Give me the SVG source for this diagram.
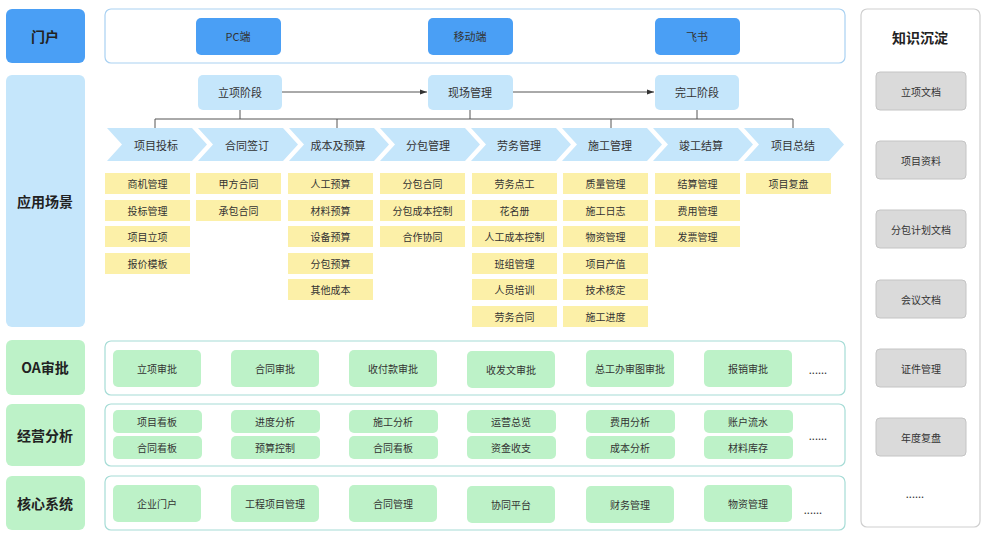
<svg xmlns="http://www.w3.org/2000/svg" width="988" height="539" viewBox="0 0 988 539">
<style>
text{font-family:"Noto Sans CJK SC","Liberation Sans",sans-serif;text-anchor:middle;dominant-baseline:central;fill:#333}
.s{font-size:10px}
.m{font-size:11px}
.h{font-size:14px;font-weight:bold;fill:#222}
.lb{fill:#c5e6fb}
.db{fill:#4a9ff5}
.y{fill:#fcf0a8}
.g{fill:#bdf2c8}
.pb{fill:#fff;stroke:#a9d1f2;stroke-width:1.2}
.pg{fill:#fff;stroke:#a6dcd6;stroke-width:1.2}
.gr{fill:#dadada;stroke:#c4c4c4}
.ln{stroke:#555;stroke-width:1;fill:none}
</style>
<defs><marker id="a" markerWidth="8" markerHeight="8" refX="7" refY="4" orient="auto"><path d="M0,1.5L7,4L0,6.5z" fill="#333"/></marker></defs>
<g id="labels">
<rect x="6" y="9" width="79" height="54" rx="6" class="db"/><text x="45" y="36" class="h">门户</text>
<rect x="6" y="75" width="79" height="252" rx="6" class="lb"/><text x="45" y="201" class="h">应用场景</text>
<rect x="6" y="340" width="79" height="55" rx="6" class="g"/><text x="45" y="367" class="h">OA审批</text>
<rect x="6" y="404" width="79" height="62" rx="6" class="g"/><text x="45" y="435" class="h">经营分析</text>
<rect x="6" y="476" width="79" height="54" rx="6" class="g"/><text x="45" y="503" class="h">核心系统</text>
</g>
<g id="portal">
<rect x="105" y="9" width="740" height="54" rx="6" class="pb"/>
<rect x="196" y="18" width="85" height="37" rx="5" class="db"/><text x="238" y="36" class="m">PC端</text>
<rect x="428" y="18" width="85" height="37" rx="5" class="db"/><text x="470" y="36" class="m">移动端</text>
<rect x="655" y="18" width="85" height="37" rx="5" class="db"/><text x="697" y="36" class="m">飞书</text>
</g>
<g id="connectors">
<line x1="282" y1="92" x2="427" y2="92" class="ln" marker-end="url(#a)"/>
<line x1="513" y1="92" x2="654" y2="92" class="ln" marker-end="url(#a)"/>
<path d="M155,128V119H793V128M337,119V128M611,119V128M240,110V119M470,110V119M697,110V119" class="ln"/>
</g>
<g id="phases">
<rect x="198" y="75" width="84" height="35" rx="5" class="lb"/><text x="240" y="92" class="m">立项阶段</text>
<rect x="428" y="75" width="85" height="35" rx="5" class="lb"/><text x="470" y="92" class="m">现场管理</text>
<rect x="655" y="75" width="84" height="35" rx="5" class="lb"/><text x="697" y="92" class="m">完工阶段</text>
</g>
<g id="chevrons">
<polygon points="107,128 192,128 207,144.5 192,161 107,161 122,144.5" class="lb"/><text x="156" y="144.5" class="m">项目投标</text>
<polygon points="198,128 283,128 298,144.5 283,161 198,161 213,144.5" class="lb"/><text x="247" y="144.5" class="m">合同签订</text>
<polygon points="289,128 374,128 389,144.5 374,161 289,161 304,144.5" class="lb"/><text x="338" y="144.5" class="m">成本及预算</text>
<polygon points="380,128 465,128 480,144.5 465,161 380,161 395,144.5" class="lb"/><text x="428" y="144.5" class="m">分包管理</text>
<polygon points="471,128 556,128 571,144.5 556,161 471,161 486,144.5" class="lb"/><text x="519" y="144.5" class="m">劳务管理</text>
<polygon points="562,128 647,128 662,144.5 647,161 562,161 577,144.5" class="lb"/><text x="610" y="144.5" class="m">施工管理</text>
<polygon points="653,128 738,128 753,144.5 738,161 653,161 668,144.5" class="lb"/><text x="701" y="144.5" class="m">竣工结算</text>
<polygon points="744,128 829,128 844,144.5 829,161 744,161 759,144.5" class="lb"/><text x="793" y="144.5" class="m">项目总结</text>
</g>
<g id="scenes">
<g transform="translate(105,0)">
<rect y="173" width="85" height="21" class="y"/><text x="42.5" y="183.5" class="s">商机管理</text>
<rect y="200" width="85" height="21" class="y"/><text x="42.5" y="210.5" class="s">投标管理</text>
<rect y="226" width="85" height="21" class="y"/><text x="42.5" y="236.5" class="s">项目立项</text>
<rect y="253" width="85" height="21" class="y"/><text x="42.5" y="263.5" class="s">报价模板</text>
</g>
<g transform="translate(196,0)">
<rect y="173" width="85" height="21" class="y"/><text x="42.5" y="183.5" class="s">甲方合同</text>
<rect y="200" width="85" height="21" class="y"/><text x="42.5" y="210.5" class="s">承包合同</text>
</g>
<g transform="translate(288,0)">
<rect y="173" width="85" height="21" class="y"/><text x="42.5" y="183.5" class="s">人工预算</text>
<rect y="200" width="85" height="21" class="y"/><text x="42.5" y="210.5" class="s">材料预算</text>
<rect y="226" width="85" height="21" class="y"/><text x="42.5" y="236.5" class="s">设备预算</text>
<rect y="253" width="85" height="21" class="y"/><text x="42.5" y="263.5" class="s">分包预算</text>
<rect y="279" width="85" height="21" class="y"/><text x="42.5" y="289.5" class="s">其他成本</text>
</g>
<g transform="translate(380,0)">
<rect y="173" width="85" height="21" class="y"/><text x="42.5" y="183.5" class="s">分包合同</text>
<rect y="200" width="85" height="21" class="y"/><text x="42.5" y="210.5" class="s">分包成本控制</text>
<rect y="226" width="85" height="21" class="y"/><text x="42.5" y="236.5" class="s">合作协同</text>
</g>
<g transform="translate(472,0)">
<rect y="173" width="85" height="21" class="y"/><text x="42.5" y="183.5" class="s">劳务点工</text>
<rect y="200" width="85" height="21" class="y"/><text x="42.5" y="210.5" class="s">花名册</text>
<rect y="226" width="85" height="21" class="y"/><text x="42.5" y="236.5" class="s">人工成本控制</text>
<rect y="253" width="85" height="21" class="y"/><text x="42.5" y="263.5" class="s">班组管理</text>
<rect y="279" width="85" height="21" class="y"/><text x="42.5" y="289.5" class="s">人员培训</text>
<rect y="306" width="85" height="21" class="y"/><text x="42.5" y="316.5" class="s">劳务合同</text>
</g>
<g transform="translate(563,0)">
<rect y="173" width="85" height="21" class="y"/><text x="42.5" y="183.5" class="s">质量管理</text>
<rect y="200" width="85" height="21" class="y"/><text x="42.5" y="210.5" class="s">施工日志</text>
<rect y="226" width="85" height="21" class="y"/><text x="42.5" y="236.5" class="s">物资管理</text>
<rect y="253" width="85" height="21" class="y"/><text x="42.5" y="263.5" class="s">项目产值</text>
<rect y="279" width="85" height="21" class="y"/><text x="42.5" y="289.5" class="s">技术核定</text>
<rect y="306" width="85" height="21" class="y"/><text x="42.5" y="316.5" class="s">施工进度</text>
</g>
<g transform="translate(655,0)">
<rect y="173" width="85" height="21" class="y"/><text x="42.5" y="183.5" class="s">结算管理</text>
<rect y="200" width="85" height="21" class="y"/><text x="42.5" y="210.5" class="s">费用管理</text>
<rect y="226" width="85" height="21" class="y"/><text x="42.5" y="236.5" class="s">发票管理</text>
</g>
<g transform="translate(746,0)">
<rect y="173" width="85" height="21" class="y"/><text x="42.5" y="183.5" class="s">项目复盘</text>
</g>
</g>
<g id="oa">
<rect x="105" y="341" width="740" height="54" rx="6" class="pg"/>
<rect x="113" y="350" width="88" height="37" rx="5" class="g"/><text x="157" y="368.5" class="s">立项审批</text>
<rect x="231" y="350" width="88" height="37" rx="5" class="g"/><text x="275" y="368.5" class="s">合同审批</text>
<rect x="349" y="350" width="88" height="37" rx="5" class="g"/><text x="393" y="368.5" class="s">收付款审批</text>
<rect x="467" y="351" width="88" height="37" rx="5" class="g"/><text x="511" y="369.5" class="s">收发文审批</text>
<rect x="586" y="350" width="88" height="37" rx="5" class="g"/><text x="630" y="368.5" class="s">总工办审图审批</text>
<rect x="704" y="350" width="88" height="37" rx="5" class="g"/><text x="748" y="368.5" class="s">报销审批</text>
<text x="818" y="369" class="m">......</text>
</g>
<g id="analysis">
<rect x="105" y="404" width="740" height="62" rx="6" class="pg"/>
<rect x="113" y="410" width="89" height="23" rx="5" class="g"/><text x="157" y="421.5" class="s">项目看板</text>
<rect x="113" y="436" width="89" height="23" rx="5" class="g"/><text x="157" y="447.5" class="s">合同看板</text>
<rect x="231" y="410" width="89" height="23" rx="5" class="g"/><text x="275" y="421.5" class="s">进度分析</text>
<rect x="231" y="436" width="89" height="23" rx="5" class="g"/><text x="275" y="447.5" class="s">预算控制</text>
<rect x="349" y="410" width="89" height="23" rx="5" class="g"/><text x="393" y="421.5" class="s">施工分析</text>
<rect x="349" y="436" width="89" height="23" rx="5" class="g"/><text x="393" y="447.5" class="s">合同看板</text>
<rect x="467" y="410" width="89" height="23" rx="5" class="g"/><text x="511" y="421.5" class="s">运营总览</text>
<rect x="467" y="436" width="89" height="23" rx="5" class="g"/><text x="511" y="447.5" class="s">资金收支</text>
<rect x="586" y="410" width="89" height="23" rx="5" class="g"/><text x="630" y="421.5" class="s">费用分析</text>
<rect x="586" y="436" width="89" height="23" rx="5" class="g"/><text x="630" y="447.5" class="s">成本分析</text>
<rect x="704" y="410" width="89" height="23" rx="5" class="g"/><text x="748" y="421.5" class="s">账户流水</text>
<rect x="704" y="436" width="89" height="23" rx="5" class="g"/><text x="748" y="447.5" class="s">材料库存</text>
<text x="818" y="435" class="m">......</text>
</g>
<g id="core">
<rect x="105" y="476" width="740" height="54" rx="6" class="pg"/>
<rect x="113" y="485" width="88" height="37" rx="5" class="g"/><text x="157" y="503.5" class="s">企业门户</text>
<rect x="231" y="485" width="88" height="37" rx="5" class="g"/><text x="275" y="503.5" class="s">工程项目管理</text>
<rect x="349" y="485" width="88" height="37" rx="5" class="g"/><text x="393" y="503.5" class="s">合同管理</text>
<rect x="467" y="486" width="88" height="37" rx="5" class="g"/><text x="511" y="504.5" class="s">协同平台</text>
<rect x="586" y="486" width="88" height="37" rx="5" class="g"/><text x="630" y="504.5" class="s">财务管理</text>
<rect x="704" y="485" width="88" height="37" rx="5" class="g"/><text x="748" y="503.5" class="s">物资管理</text>
<text x="813" y="509" class="m">......</text>
</g>
<g id="knowledge">
<rect x="861" y="9" width="119" height="518" rx="6" fill="#fff" stroke="#cfcfcf" stroke-width="1.2"/>
<text x="920" y="37" class="h" font-size="13">知识沉淀</text>
<rect x="876" y="72" width="90" height="38" rx="4" class="gr"/><text x="921" y="91" class="s">立项文档</text>
<rect x="876" y="141" width="90" height="38" rx="4" class="gr"/><text x="921" y="160" class="s">项目资料</text>
<rect x="876" y="210" width="90" height="38" rx="4" class="gr"/><text x="921" y="229" class="s">分包计划文档</text>
<rect x="876" y="280" width="90" height="38" rx="4" class="gr"/><text x="921" y="299" class="s">会议文档</text>
<rect x="876" y="349" width="90" height="38" rx="4" class="gr"/><text x="921" y="368" class="s">证件管理</text>
<rect x="876" y="418" width="90" height="38" rx="4" class="gr"/><text x="921" y="437" class="s">年度复盘</text>
<text x="915" y="493" class="m">......</text>
</g>
</svg>
